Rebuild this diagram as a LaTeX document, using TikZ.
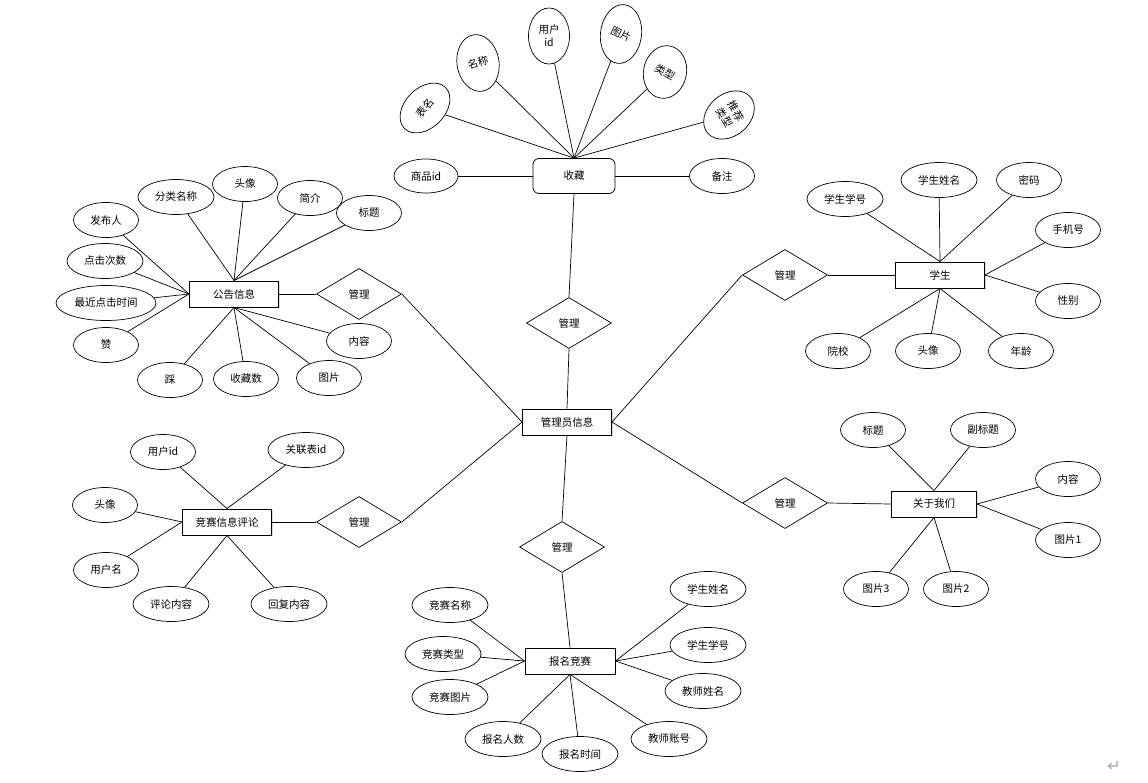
\documentclass[tikz,border=0pt]{standalone}
\usepackage{fontspec}
\setmainfont{Noto Sans CJK SC}
\newfontfamily\symfont{DejaVu Sans}
\usetikzlibrary{shapes.geometric,shadows}

\tikzset{
  attr/.style={draw,ellipse,inner sep=0pt,minimum width=65pt,minimum height=35pt,
               line width=0.7pt,font=\fontsize{10.5}{13}\selectfont},
  attrw/.style={attr,minimum width=76pt},
  ent/.style={draw,rectangle,inner sep=0pt,minimum width=89pt,minimum height=26pt,
              line width=1pt,fill=white,font=\fontsize{10.5}{13}\selectfont,
              drop shadow={shadow xshift=1pt,shadow yshift=-1pt,opacity=0.3}},
  fav/.style={draw,rectangle,rounded corners=6pt,inner sep=0pt,minimum width=82pt,
              minimum height=35pt,line width=0.8pt,font=\fontsize{10.5}{13}\selectfont},
  rel/.style={draw,diamond,aspect=1.6,inner sep=0pt,minimum width=85pt,minimum height=51pt,
              line width=0.7pt,font=\fontsize{10.5}{13}\selectfont},
  conn/.style={line width=0.7pt}
}

\begin{document}
\begin{tikzpicture}[x=1pt,y=-1pt]
  \useasboundingbox (0,0) rectangle (1148,782);

  % collection
  \node[fav] (sc) at (574,176) {收藏};
  \node[attr,minimum width=64pt,minimum height=34pt] (sc_spid) at (426,176) {商品id};
  \node[attr] (sc_bz) at (722,176) {备注};
  \node[attr,minimum width=58pt,minimum height=40pt,rotate=45] (sc_bm) at (425,108) {\rotatebox{8}{表名}};
  \node[attr,minimum width=42pt,minimum height=57pt,rotate=9] (sc_mc) at (478,63) {\rotatebox{8}{名称}};
  \node[attr,minimum width=41pt,minimum height=56pt,align=center] (sc_yhid) at (549,36) {用户\\id};
  \node[attr,minimum width=41pt,minimum height=59pt,rotate=-7] (sc_tp) at (621,34) {\rotatebox{-18}{图片}};
  \node[attr,minimum width=43pt,minimum height=53pt,rotate=-11] (sc_lx) at (665,72) {\rotatebox{-19}{类型}};
  \node[attr,minimum width=42pt,minimum height=56pt,rotate=-50] (sc_tjlx) at (729,115)
       {\rotatebox{-10}{\begin{tabular}{@{}c@{}}推荐\\类型\end{tabular}}};
  \foreach \a in {sc_bm,sc_mc,sc_yhid,sc_tp,sc_lx,sc_tjlx}
    \draw[conn] (sc.north) -- (\a);
  \draw[conn] (sc_spid) -- (sc.west);
  \draw[conn] (sc.east) -- (sc_bz);

  % admin and relations
  \node[ent] (gly) at (567,422) {管理员信息};
  \node[rel] (gl_sc) at (569,323) {管理};
  \node[rel] (gl_gg) at (359,294) {管理};
  \node[rel] (gl_pl) at (359,522) {管理};
  \node[rel] (gl_bm) at (562,547) {管理};
  \node[rel] (gl_xs) at (785,275) {管理};
  \node[rel] (gl_gy) at (785,503) {管理};

  % entities
  \node[ent] (gg) at (234,294) {公告信息};
  \node[ent] (pl) at (227,522) {竞赛信息评论};
  \node[ent] (xs) at (940,275) {学生};
  \node[ent,minimum width=85pt] (gy) at (934,504) {关于我们};
  \node[ent,minimum width=90pt] (bm) at (570,661) {报名竞赛};

  \draw[conn] (sc.south) -- (gl_sc.north);
  \draw[conn] (gl_sc.south) -- (gly.north);
  \draw[conn] (gl_gg.east) -- (gly.west);
  \draw[conn] (gl_pl.east) -- (gly.west);
  \draw[conn] (gly.south) -- (gl_bm.north);
  \draw[conn] (gl_bm.south) -- (bm.north);
  \draw[conn] (gl_xs.west) -- (gly.east);
  \draw[conn] (gl_gy.west) -- (gly.east);
  \draw[conn] (gg.east) -- (gl_gg.west);
  \draw[conn] (pl.east) -- (gl_pl.west);
  \draw[conn] (gl_xs.east) -- (xs.west);
  \draw[conn] (gl_gy.east) -- (gy.west);

  % notice attributes
  \node[attr] (gg_fbr) at (106,220) {发布人};
  \node[attrw] (gg_flmc) at (176,197) {分类名称};
  \node[attr] (gg_tx) at (245,184) {头像};
  \node[attr] (gg_jj) at (310,198) {简介};
  \node[attr] (gg_bt) at (369,213) {标题};
  \node[attrw] (gg_djcs) at (105,261) {点击次数};
  \node[attr,minimum width=100pt] (gg_zjdj) at (106,303) {最近点击时间};
  \node[attr] (gg_z) at (106,345) {赞};
  \node[attr] (gg_c) at (170,380) {踩};
  \node[attr] (gg_scs) at (246,379) {收藏数};
  \node[attr] (gg_tp) at (329,378) {图片};
  \node[attr] (gg_nr) at (359,341) {内容};
  \foreach \a/\b in {gg_flmc/north,gg_tx/north,gg_jj/north,gg_bt/north,
                     gg_fbr/west,gg_djcs/west,gg_zjdj/west,gg_z/west,
                     gg_c/south,gg_scs/south,gg_tp/south,gg_nr/south}
    \draw[conn] (gg.\b) -- (\a);

  % comment attributes
  \node[attr] (pl_yhid) at (163,452) {用户id};
  \node[attrw] (pl_glbid) at (306,450) {关联表id};
  \node[attr] (pl_tx) at (105,505) {头像};
  \node[attr] (pl_yhm) at (106,570) {用户名};
  \node[attrw] (pl_plnr) at (171,604) {评论内容};
  \node[attrw] (pl_hfnr) at (289,604) {回复内容};
  \foreach \a/\b in {pl_yhid/north,pl_glbid/north,pl_tx/west,pl_yhm/west,
                     pl_plnr/south,pl_hfnr/south}
    \draw[conn] (pl.\b) -- (\a);

  % student attributes
  \node[attrw] (xs_xh) at (845,199) {学生学号};
  \node[attrw] (xs_xm) at (939,180) {学生姓名};
  \node[attr] (xs_mm) at (1029,180) {密码};
  \node[attr] (xs_sjh) at (1068,230) {手机号};
  \node[attr] (xs_xb) at (1068,301) {性别};
  \node[attr] (xs_yx) at (838,351) {院校};
  \node[attr] (xs_tx) at (928,351) {头像};
  \node[attr] (xs_nl) at (1021,351) {年龄};
  \foreach \a/\b in {xs_xh/north,xs_xm/north,xs_mm/north,xs_sjh/east,xs_xb/east,
                     xs_yx/south,xs_tx/south,xs_nl/south}
    \draw[conn] (xs.\b) -- (\a);

  % about attributes
  \node[attr] (gy_bt) at (873,430) {标题};
  \node[attr] (gy_fbt) at (983,430) {副标题};
  \node[attr] (gy_nr) at (1068,479) {内容};
  \node[attr] (gy_tp1) at (1068,540) {图片1};
  \node[attr] (gy_tp3) at (876,589) {图片3};
  \node[attr] (gy_tp2) at (956,589) {图片2};
  \foreach \a/\b in {gy_bt/north,gy_fbt/north,gy_nr/east,gy_tp1/east,
                     gy_tp3/south,gy_tp2/south}
    \draw[conn] (gy.\b) -- (\a);

  % sign-up attributes
  \node[attrw] (bm_jsmc) at (450,605) {竞赛名称};
  \node[attrw] (bm_jslx) at (443,654) {竞赛类型};
  \node[attrw] (bm_jstp) at (450,697) {竞赛图片};
  \node[attrw] (bm_bmrs) at (503,739) {报名人数};
  \node[attrw] (bm_bmsj) at (580,754) {报名时间};
  \node[attrw] (bm_jszh) at (669,739) {教师账号};
  \node[attrw] (bm_jsxm) at (703,691) {教师姓名};
  \node[attrw] (bm_xsxh) at (708,645) {学生学号};
  \node[attrw] (bm_xsxm) at (708,589) {学生姓名};
  \foreach \a/\b in {bm_jsmc/west,bm_jslx/west,bm_jstp/west,
                     bm_xsxm/east,bm_xsxh/east,bm_jsxm/east,
                     bm_bmrs/south,bm_bmsj/south,bm_jszh/south}
    \draw[conn] (bm.\b) -- (\a);

  \node[text=gray!70,font=\symfont\fontsize{16}{16}\selectfont] (ret) at (1114,766) {↵};
\end{tikzpicture}
\end{document}
